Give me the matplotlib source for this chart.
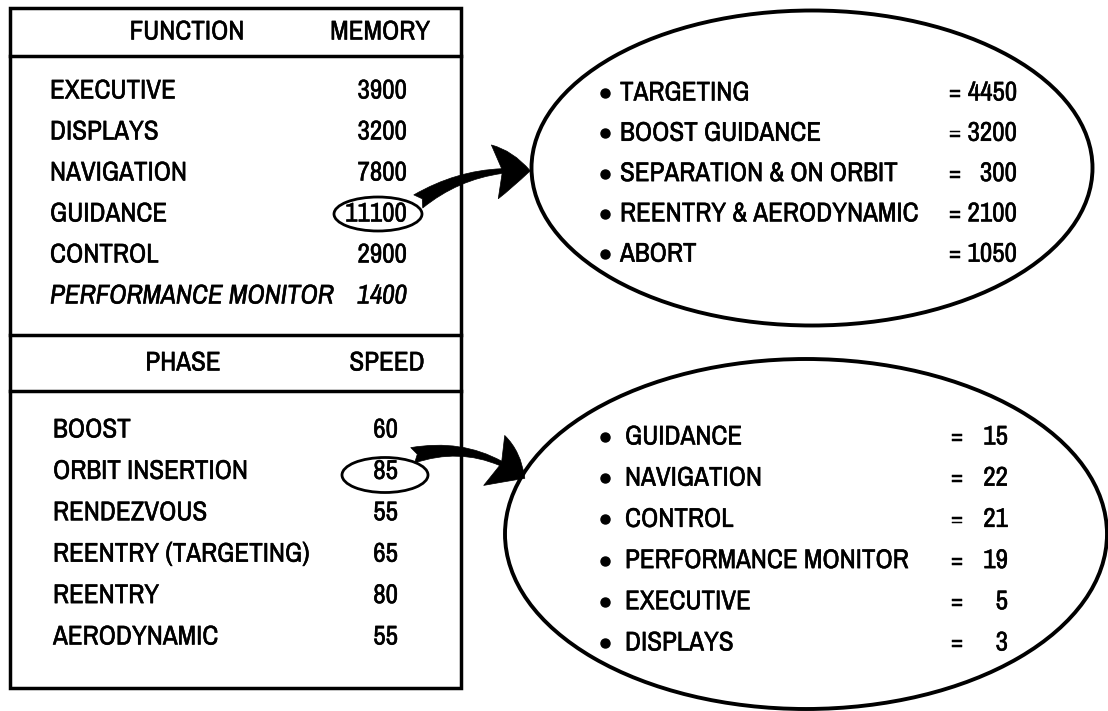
import matplotlib
matplotlib.use("Agg")
import matplotlib.pyplot as plt
import matplotlib.font_manager as fm
import matplotlib.patheffects as pe
from matplotlib.font_manager import FontProperties
from matplotlib.patches import Ellipse, Rectangle, FancyArrowPatch

# ---------------- data ----------------
functions = ["EXECUTIVE", "DISPLAYS", "NAVIGATION", "GUIDANCE", "CONTROL", "PERFORMANCE MONITOR"]
memory = [3900, 3200, 7800, 11100, 2900, 1400]

phases = ["BOOST", "ORBIT INSERTION", "RENDEZVOUS", "REENTRY (TARGETING)", "REENTRY", "AERODYNAMIC"]
speed = [60, 85, 55, 65, 80, 55]

guidance_parts = ["TARGETING", "BOOST GUIDANCE", "SEPARATION & ON ORBIT", "REENTRY & AERODYNAMIC", "ABORT"]
guidance_memory = [4450, 3200, 300, 2100, 1050]

insertion_parts = ["GUIDANCE", "NAVIGATION", "CONTROL", "PERFORMANCE MONITOR", "EXECUTIVE", "DISPLAYS"]
insertion_speed = [15, 22, 21, 19, 5, 3]

# ---------------- fonts: prefer a condensed face ----------------
def _w(f):
    if isinstance(f.weight, int):
        return f.weight
    return {"normal": 400, "regular": 400, "book": 400}.get(str(f.weight), 700)

def pick_condensed():
    cands = []
    for f in fm.fontManager.ttflist:
        nm = f.name
        st = str(f.stretch)
        if ("Narrow" in nm or "Condensed" in nm or st in ("condensed", "semi-condensed", "extra-condensed")):
            cands.append(f)
    def score(f):
        s = 0
        if "Narrow" in f.name:
            s -= 10
        if "Liberation" in f.name:
            s -= 5
        if "Semi" in f.name or "Extra" in f.name or "Ultra" in f.name:
            s += 5
        return s
    cands.sort(key=score)
    reg = ita = None
    for f in cands:
        if f.style == "normal" and _w(f) == 400 and reg is None:
            reg = f
    if reg is not None:
        for f in cands:
            if f.name == reg.name and f.style in ("italic", "oblique") and _w(f) == 400:
                ita = f
                break
    return reg, ita

reg, ita = pick_condensed()
if reg is not None:
    FP = FontProperties(fname=reg.fname)
    FPI = FontProperties(fname=ita.fname) if ita is not None else FontProperties(fname=reg.fname)
    FS = 19.5
else:
    FP = FontProperties(family="Roboto")
    FPI = FontProperties(family="Roboto", style="italic")
    FS = 15.5

W, H = 1108, 711
fig = plt.figure(figsize=(W / 100, H / 100), dpi=100)
ax = fig.add_axes([0, 0, 1, 1])
ax.set_xlim(0, W)
ax.set_ylim(H, 0)
ax.axis("off")

LW = 2.5
BOLDEN = [pe.withStroke(linewidth=0.35, foreground="black")]

def txt(x, y, s, ha="left", italic=False, size=None):
    fp = (FPI if italic else FP).copy()
    fp.set_size(size if size else FS)
    ax.text(x, y, s, ha=ha, va="center", fontproperties=fp, color="black",
            path_effects=BOLDEN)

# ---------------- table box ----------------
ax.add_patch(Rectangle((10, 8), 451, 680, fill=False, lw=LW, ec="black"))
for yy in (56, 335, 391):
    ax.plot([10, 461], [yy, yy], color="black", lw=LW)

txt(187, 32, "FUNCTION", ha="center")
txt(380, 32, "MEMORY", ha="center")
for i, (f, m) in enumerate(zip(functions, memory)):
    y = 91 + i * 41
    it = f == "PERFORMANCE MONITOR"
    txt(50, y, f, italic=it)
    txt(407, y, str(m), ha="right", italic=it)

txt(183, 363, "PHASE", ha="center")
txt(387, 363, "SPEED", ha="center")
for i, (p, s) in enumerate(zip(phases, speed)):
    y = 430 + i * 41.4
    txt(53, y, p)
    txt(398, y, str(s), ha="right")

# small highlight ellipses
ax.add_patch(Ellipse((378, 214), 88, 34, fill=False, lw=2.0, ec="black"))
ax.add_patch(Ellipse((385, 475), 86, 35, fill=False, lw=2.0, ec="black"))

# ---------------- big ellipses ----------------
ax.add_patch(Ellipse((812, 168), 561, 315, fill=False, lw=LW + 0.3, ec="black"))
ax.add_patch(Ellipse((806, 534), 602, 350, fill=False, lw=LW + 0.3, ec="black"))

gy = [93 + i * 40.3 for i in range(len(guidance_parts))]
ax.plot([605] * len(gy), gy, "o", color="black", ms=6.5)
for y, p, v in zip(gy, guidance_parts, guidance_memory):
    txt(620, y, p)
    txt(955, y, "=", ha="center", size=FS * 0.85)
    txt(1017, y, str(v), ha="right")

iy = [437 + i * 41.2 for i in range(len(insertion_parts))]
ax.plot([605] * len(iy), iy, "o", color="black", ms=6.5)
for y, p, v in zip(iy, insertion_parts, insertion_speed):
    txt(625, y, p)
    txt(957, y, "=", ha="center", size=FS * 0.85)
    txt(1008, y, str(v), ha="right")

# ---------------- arrows ----------------
a1 = FancyArrowPatch((416, 203), (533, 171),
                     connectionstyle="arc3,rad=-0.18",
                     arrowstyle="fancy,head_length=0.85,head_width=1.3,tail_width=0.38",
                     mutation_scale=30, fc="black", ec="black", lw=0.5)
ax.add_patch(a1)
a2 = FancyArrowPatch((410, 456), (527, 480),
                     connectionstyle="arc3,rad=-0.25",
                     arrowstyle="fancy,head_length=0.85,head_width=1.3,tail_width=0.38",
                     mutation_scale=30, fc="black", ec="black", lw=0.5)
ax.add_patch(a2)

fig.savefig("out.png", dpi=100)
